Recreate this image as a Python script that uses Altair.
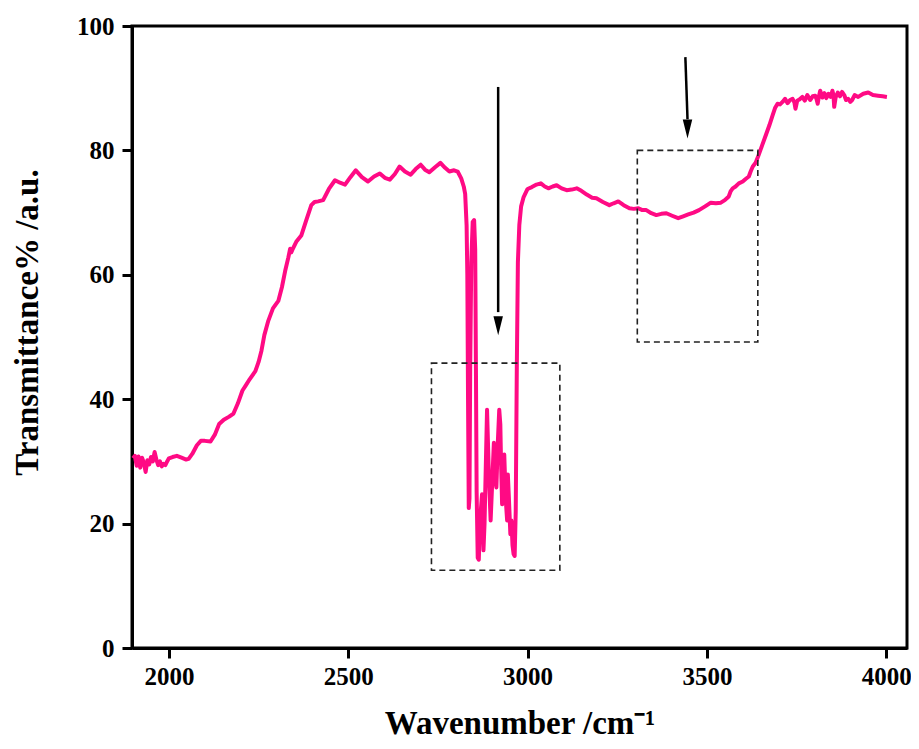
import altair as alt
import pandas as pd

wavenumber = [
    1900, 1905, 1910, 1915, 1920, 1925, 1930, 1935, 1940, 1945, 1950, 1955, 1960, 1965, 1970,
    1975, 1980, 1985, 1990, 1995, 2000, 2010, 2022, 2035, 2048, 2055, 2065, 2078, 2089, 2100,
    2116, 2128, 2140, 2153, 2168, 2180, 2192, 2205, 2213, 2225, 2241, 2250, 2258, 2266, 2277,
    2290, 2305, 2315, 2324, 2333, 2338, 2341, 2344, 2355, 2369, 2383, 2397, 2406, 2416, 2430,
    2446, 2463, 2477, 2491, 2506, 2521, 2538, 2555, 2572, 2588, 2602, 2616, 2630, 2643, 2658,
    2674, 2688, 2702, 2714, 2726, 2742, 2757, 2770, 2782, 2795, 2805, 2815, 2822,
    2826, 2830, 2832, 2834, 2836, 2838, 2840, 2843, 2847, 2851, 2854, 2856, 2858, 2861, 2864,
    2867, 2873, 2877, 2880, 2887, 2892, 2897, 2901, 2906, 2910, 2913, 2917, 2921, 2924, 2926,
    2929, 2932, 2935, 2939, 2943, 2945, 2948, 2952, 2955, 2958, 2961, 2964, 2967, 2970, 2973,
    2977, 2982, 2989,
    3000, 3012, 3025, 3037, 3048, 3058, 3070, 3081, 3095, 3109, 3123, 3137, 3150, 3165, 3180,
    3192, 3210, 3228, 3240, 3253, 3268, 3284, 3296, 3309, 3320, 3331, 3345, 3359, 3373, 3387,
    3403, 3420, 3434, 3448, 3463, 3478, 3495, 3511, 3525, 3539, 3550, 3561, 3566, 3572, 3580,
    3589, 3600, 3608, 3617, 3622, 3628, 3636, 3644, 3654, 3664, 3674, 3683, 3690, 3697, 3704,
    3711, 3718, 3725, 3732, 3739, 3744, 3747, 3752, 3758, 3766, 3773, 3780, 3788, 3795, 3802,
    3806, 3809, 3812, 3816, 3822, 3828, 3833, 3839, 3845, 3850, 3853, 3855, 3859, 3865, 3871,
    3877, 3883, 3888, 3894, 3900, 3905, 3912, 3922, 3936, 3950, 3963, 3977, 3990, 4002,
]
transmittance = [
    30.5, 30.9, 29.3, 30.8, 29.0, 30.6, 29.8, 28.3, 30.2, 29.5, 30.7, 30.0, 31.5, 30.3, 29.4,
    30.0, 29.2, 29.6, 29.4, 30.0, 30.5, 30.7, 30.9, 30.6, 30.3, 30.4, 31.2, 32.6, 33.3, 33.3,
    33.2, 34.3, 36.0, 36.7, 37.2, 37.7, 39.3, 41.4, 42.1, 43.2, 44.5, 46.0, 47.8, 50.3, 52.6,
    54.6, 55.8, 58.0, 60.6, 62.8, 64.2, 63.6, 64.0, 65.3, 66.3, 68.8, 71.2, 71.7, 71.8, 72.0,
    73.8, 75.2, 74.8, 74.5, 75.7, 76.8, 75.7, 75.0, 75.8, 76.3, 75.6, 75.3, 76.2, 77.4, 76.6,
    76.1, 77.0, 77.7, 76.9, 76.5, 77.3, 78.0, 77.2, 76.6, 76.8, 76.6, 75.5, 74.2,
    73.0, 68.0, 60.0, 40.0, 22.5, 24.0, 45.0, 62.0, 68.5, 68.8, 64.0, 45.0, 25.0, 14.5, 14.2,
    20.0, 24.7, 15.7, 20.0, 38.3, 28.0, 20.5, 26.0, 33.0, 27.0, 25.8, 33.0, 38.3, 36.0, 30.0,
    23.1, 28.0, 31.1, 24.0, 20.5, 27.9, 24.0, 18.3, 20.5, 16.5, 15.1, 14.8, 22.0, 45.0, 62.0,
    68.0, 71.0, 72.5,
    73.8, 74.1, 74.5, 74.7, 74.2, 73.9, 74.2, 74.4, 73.9, 73.6, 73.7, 73.9, 73.5, 72.9, 72.4,
    72.3, 71.7, 71.2, 71.5, 71.8, 71.2, 70.7, 70.6, 70.7, 70.4, 70.4, 69.9, 69.6, 69.8, 69.9,
    69.5, 69.1, 69.4, 69.7, 70.0, 70.4, 71.0, 71.6, 71.5, 71.6, 72.0, 72.6, 73.4, 73.9, 74.2,
    74.7, 75.0, 75.4, 75.8, 76.6, 77.4, 78.0, 79.2, 80.8, 82.4, 84.0, 85.6, 86.8, 87.5, 87.4,
    87.8, 88.3, 87.6, 88.1, 88.3, 87.7, 86.7, 88.0, 88.2, 88.6, 88.0, 88.9, 88.1, 88.7, 88.8,
    88.2, 87.5, 88.6, 89.6, 88.5, 89.2, 88.4, 89.1, 88.6, 89.6, 88.9, 87.0, 88.5, 89.3, 88.7,
    89.4, 88.9, 88.1, 88.3, 87.8, 88.1, 88.9, 88.6, 89.1, 89.3, 88.9, 88.8, 88.7, 88.6,
]

# dashed boxes
box_x1 = [2732, 3306]
box_x2 = [3090, 3642]
box_y1 = [12.5, 49.2]
box_y2 = [45.8, 80.0]

# arrows (top point, tip point)
arrow_x_top = [2918, 3440]
arrow_x_tip = [2918, 3446]
arrow_y_top = [90.2, 95.0]
arrow_y_tip = [50.3, 81.9]
arrow_y_base = [54.0, 85.0]

x_ticks = [2000, 2500, 3000, 3500, 4000]
y_ticks = [0, 20, 40, 60, 80, 100]
x_domain = [1897, 4058]
y_domain = [0, 100]

FONT = "Liberation Serif"
PINK = "#FF0A84"

spec = pd.DataFrame({"w": wavenumber, "t": transmittance})
boxes = pd.DataFrame({"x1": box_x1, "x2": box_x2, "y1": box_y1, "y2": box_y2})
arrows = pd.DataFrame({"xt": arrow_x_top, "xp": arrow_x_tip, "yt": arrow_y_top,
                       "yp": arrow_y_tip, "yb": arrow_y_base})

W, H = 775, 622

xscale = alt.Scale(domain=x_domain, nice=False, zero=False)
yscale = alt.Scale(domain=y_domain, nice=False, zero=False)

xaxis = alt.Axis(values=x_ticks, title="Wavenumber /cm⁻¹", grid=False, format="d",
                 tickSize=10, tickWidth=3, domainWidth=3, domainColor="black", tickColor="black",
                 labelFont=FONT, labelFontSize=25, labelFontWeight="bold", labelColor="black",
                 labelPadding=6, titleFont=FONT, titleFontSize=33, titleFontWeight="bold",
                 titleColor="black", titlePadding=18)
yaxis = alt.Axis(values=y_ticks, title="Transmittance% /a.u.", grid=False,
                 tickSize=10, tickWidth=3, domainWidth=3, domainColor="black", tickColor="black",
                 labelFont=FONT, labelFontSize=25, labelFontWeight="bold", labelColor="black",
                 labelPadding=8, titleFont=FONT, titleFontSize=33, titleFontWeight="bold",
                 titleColor="black", titlePadding=32, titleY=H / 2 - 15)

line = alt.Chart(spec).mark_line(color=PINK, strokeWidth=4, strokeJoin="round").encode(
    x=alt.X("w:Q", scale=xscale, axis=xaxis),
    y=alt.Y("t:Q", scale=yscale, axis=yaxis),
)

rects = alt.Chart(boxes).mark_rect(fillOpacity=0, stroke="#222222", strokeWidth=1.6,
                                   strokeDash=[6, 4]).encode(
    x=alt.X("x1:Q", scale=xscale), x2="x2:Q",
    y=alt.Y("y1:Q", scale=yscale), y2="y2:Q",
)

shafts = alt.Chart(arrows).mark_rule(color="black", strokeWidth=2.5).encode(
    x=alt.X("xt:Q", scale=xscale), x2="xp:Q",
    y=alt.Y("yt:Q", scale=yscale), y2="yb:Q",
)

heads = alt.Chart(arrows).mark_point(shape="M-0.5,-2L0.5,-2L0,0Z", filled=True, color="black",
                                     opacity=1, size=361).encode(
    x=alt.X("xp:Q", scale=xscale),
    y=alt.Y("yp:Q", scale=yscale),
)

chart = alt.layer(line, rects, shafts, heads).properties(
    width=W, height=H,
    autosize=alt.AutoSizeParams(type="none"),
    padding={"left": 124, "top": 18, "right": 4, "bottom": 93},
).configure_view(stroke="black", strokeWidth=3)

chart.save("out.html", embed_options={"renderer": "svg", "actions": False})
